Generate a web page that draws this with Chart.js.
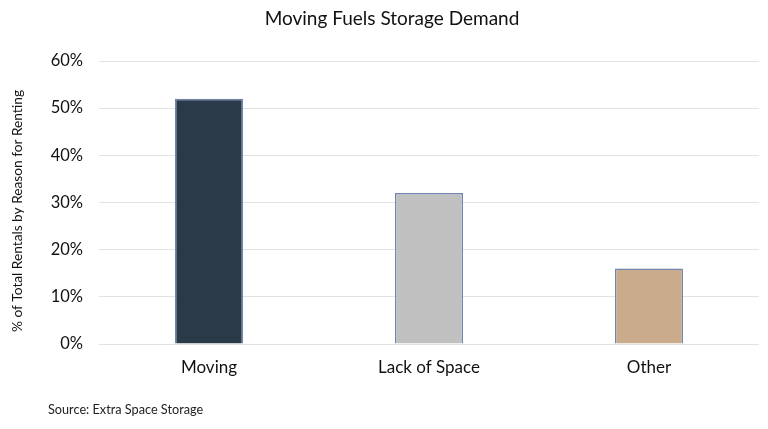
<!DOCTYPE html>
<html>
<head>
<meta charset="utf-8">
<script src="https://cdn.jsdelivr.net/npm/chart.js@4"></script>
<style>
  html, body { margin: 0; padding: 0; background: #fff; }
</style>
</head>
<body>
<canvas id="storageChart" width="768" height="429"></canvas>
<script>
var categories = ["Moving", "Lack of Space", "Other"];
var shares = [52, 32, 16];
var barColors = ["#2b3a48", "#c0c0c0", "#caab8c"];
var yTicks = [0, 10, 20, 30, 40, 50, 60];

// title, axis title and source note drawn at fixed spots on the canvas
var textNotes = {
  id: "textNotes",
  afterDraw: function (chart) {
    var ctx = chart.ctx;
    ctx.save();
    ctx.fillStyle = "#111";
    ctx.textBaseline = "middle";
    ctx.textAlign = "center";
    ctx.font = "19px Lato";
    ctx.fillText("Moving Fuels Storage Demand", 392, 19);

    ctx.save();
    ctx.translate(18, 211);
    ctx.rotate(-Math.PI / 2);
    ctx.font = "13.7px Lato";
    ctx.fillText("% of Total Rentals by Reason for Renting", 0, 0);
    ctx.restore();

    ctx.textAlign = "left";
    ctx.font = "12.7px Lato";
    ctx.fillStyle = "#222";
    ctx.fillText("Source: Extra Space Storage", 48, 410);
    ctx.restore();
  }
};

new Chart("storageChart", {
  type: "bar",
  data: {
    labels: categories,
    datasets: [{
      data: shares,
      backgroundColor: barColors,
      borderColor: "#7086b0",
      borderWidth: 1.5,
      categoryPercentage: 1,
      barPercentage: 0.31
    }]
  },
  plugins: [textNotes],
  options: {
    responsive: false,
    animation: false,
    layout: { padding: { left: 0, right: 9, top: 61, bottom: 40 } },
    plugins: {
      legend: { display: false },
      tooltip: { enabled: false },
      title: { display: false }
    },
    scales: {
      x: {
        grid: { display: false },
        border: { display: false },
        ticks: { color: "#111", font: { family: "Lato", size: 17 }, padding: 5 },
        afterFit: function (axis) { axis.height = 45; }
      },
      y: {
        min: 0,
        max: 60,
        afterBuildTicks: function (axis) {
          axis.ticks = yTicks.map(function (v) { return { value: v }; });
        },
        grid: { color: "#e3e3e3", drawTicks: false },
        border: { display: false },
        ticks: {
          color: "#111",
          font: { family: "Lato", size: 16.5 },
          padding: 16,
          callback: function (v) { return v + "%"; }
        },
        afterFit: function (axis) { axis.width = 99; }
      }
    }
  }
});
</script>
</body>
</html>
